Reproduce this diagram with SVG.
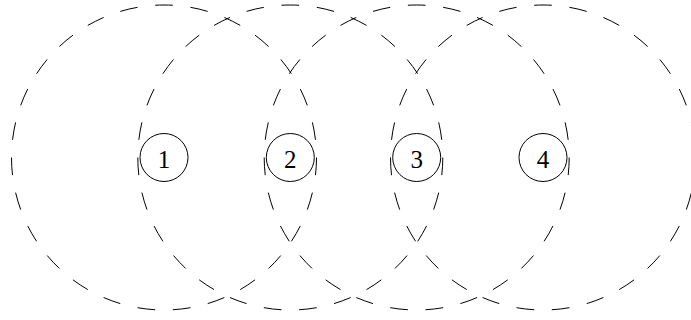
<svg xmlns="http://www.w3.org/2000/svg" width="691" height="320" viewBox="0 0 691 320">
<defs>
<style>
.range{fill:none;stroke:#000;stroke-width:1;stroke-dasharray:1 1;stroke-dashoffset:0.5}
.node circle{fill:#fff;stroke:#000;stroke-width:1}
.node text{font-family:"Liberation Serif","Times New Roman",serif;font-size:25px;text-anchor:middle;fill:#000}
</style>
</defs>
<rect width="691" height="320" fill="#fff"/>
<g id="connectors">
<path class="range" pathLength="54" d="M164,5 A152.5,152.5 0 1 0 164,310 A152.5,152.5 0 1 0 164,5"/>
<path class="range" pathLength="54" d="M290.3,5 A152.5,152.5 0 1 0 290.3,310 A152.5,152.5 0 1 0 290.3,5"/>
<path class="range" pathLength="54" d="M416.7,5 A152.5,152.5 0 1 0 416.7,310 A152.5,152.5 0 1 0 416.7,5"/>
<path class="range" pathLength="54" d="M543,5 A152.5,152.5 0 1 0 543,310 A152.5,152.5 0 1 0 543,5"/>
</g>
<g id="node1" class="node"><circle cx="164" cy="157.5" r="24"/><text x="164" y="168">1</text></g>
<g id="node2" class="node"><circle cx="290.3" cy="157.5" r="24"/><text x="290.3" y="168">2</text></g>
<g id="node3" class="node"><circle cx="416.7" cy="157.5" r="24"/><text x="416.7" y="168">3</text></g>
<g id="node4" class="node"><circle cx="543" cy="157.5" r="24"/><text x="543" y="168">4</text></g>
</svg>
